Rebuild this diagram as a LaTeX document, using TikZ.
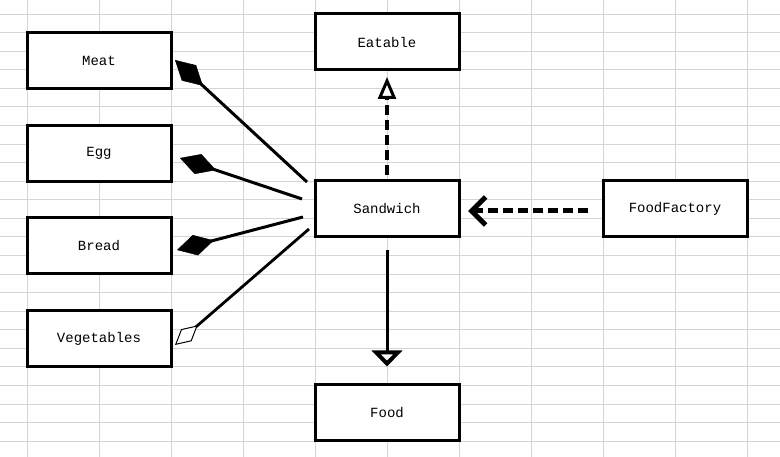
\documentclass[tikz,border=0pt]{standalone}
\usepackage{fontspec}
\setmonofont{Liberation Mono}
\usetikzlibrary{arrows.meta}
\definecolor{gridc}{RGB}{210,214,220}
\tikzset{
  cls/.style={draw=black, fill=white, line width=3pt, minimum width=144pt, minimum height=56pt, outer sep=0pt, inner sep=0pt,
    font=\ttfamily\fontsize{14}{16}\selectfont},
  gridline/.style={draw=gridc, line width=0.9pt},
  agg/.style={line width=3pt, -{Diamond[length=38pt,width=21pt,line width=0.5pt]}},
  aggopen/.style={line width=2.8pt, -{Diamond[length=30pt,width=16pt,line width=1pt,fill=white]}},
  realize/.style={line width=4pt, dash pattern=on 10pt off 5pt, -{Triangle[open,fill=white,length=22pt,width=18pt,line width=3pt,sep=0pt]}},
  inherit/.style={line width=3pt, -{Triangle[open,fill=white,length=16pt,width=30pt,line width=5pt]}},
  depend/.style={line width=5pt, dash pattern=on 10pt off 5pt, -{Straight Barb[length=14pt,width=28pt,line width=5pt]}}
}
\begin{document}
\begin{tikzpicture}[x=1pt,y=-1pt]
\fill[white] (0,0) rectangle (780,457);
\useasboundingbox (0,0) rectangle (780,457);
\foreach \i in {0,...,10} \draw[gridline] (27+72*\i,0) -- (27+72*\i,457);
\foreach \j in {0,...,23} \draw[gridline] (0,14+18.57*\j) -- (780,14+18.57*\j);

\node[cls] (eatable) at (387,42) {Eatable};
\node[cls] (sandwich) at (387,209) {Sandwich};
\node[cls] (food) at (387,412.5) {Food};
\node[cls] (foodfactory) at (675,209) {FoodFactory};
\node[cls] (meat) at (99,61) {Meat};
\node[cls] (egg) at (99,153.5) {Egg};
\node[cls] (bread) at (99,246) {Bread};
\node[cls] (vegetables) at (99,338.5) {Vegetables};

\draw[agg] ([shift={(-8,1)}]sandwich.north west) -- ([shift={(4,-1)}]meat.east);
\draw[agg] ([shift={(-13,18)}]sandwich.north west) -- ([shift={(9,4.5)}]egg.east);
\draw[agg] ([shift={(-12,8)}]sandwich.west) -- ([shift={(6,4)}]bread.east);
\draw[aggopen] ([shift={(-6,20)}]sandwich.west) -- ([shift={(4,6.5)}]vegetables.east);

\draw[realize] ([shift={(0,-6)}]sandwich.north) -- ([shift={(0,7)}]eatable.south);
\draw[inherit] ([shift={(0,13)}]sandwich.south) -- ([shift={(0,-18)}]food.north);
\draw[depend] ([shift={(-15,2)}]foodfactory.west) -- ([shift={(9,2)}]sandwich.east);
\end{tikzpicture}
\end{document}
